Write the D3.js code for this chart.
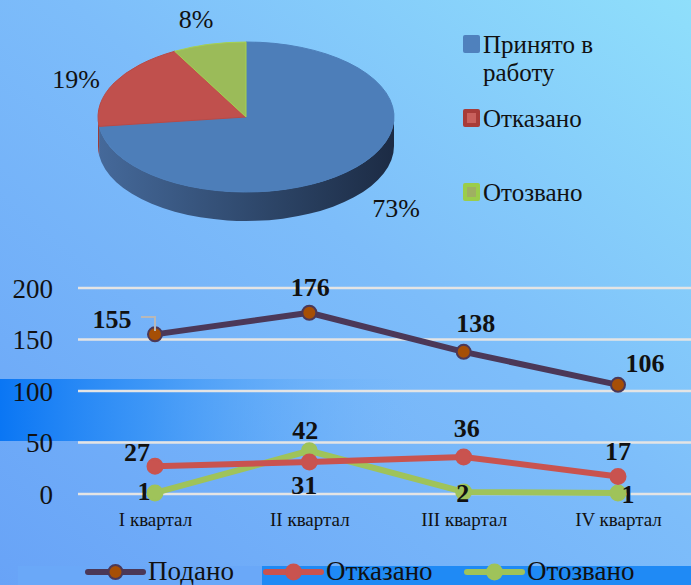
<!DOCTYPE html>
<html>
<head>
<meta charset="utf-8">
<script src="https://cdn.jsdelivr.net/npm/d3@7"></script>
<style>
  body { margin: 0; padding: 0; overflow: hidden; }
  svg { display: block; font-family: "Liberation Serif", "Times New Roman", serif; }
</style>
</head>
<body>
<div id="chart-area"></div>
<script>
// pie data
var pieLabels = ["Принято в работу", "Отказано", "Отозвано"];
var pieValues = [73, 19, 8];

// line data
var quarters = ["I квартал", "II квартал", "III квартал", "IV квартал"];
var seriesNames = ["Подано", "Отказано", "Отозвано"];
var podano = [155, 176, 138, 106];
var otkazano = [27, 31, 36, 17];
var otozvano = [1, 42, 2, 1];
var yTicks = [0, 50, 100, 150, 200];

var width = 691;
var height = 585;

var svg = d3.select("#chart-area")
    .append("svg")
        .attr("width", width)
        .attr("height", height);

var defs = svg.append("defs");

// background
var bg = defs.append("linearGradient").attr("id", "bg")
    .attr("x1", "0").attr("y1", "1").attr("x2", "1").attr("y2", "0");
bg.append("stop").attr("offset", "0").attr("stop-color", "#68a3f7");
bg.append("stop").attr("offset", "0.55").attr("stop-color", "#7dbdfa");
bg.append("stop").attr("offset", "1").attr("stop-color", "#8fdffb");
svg.append("rect").attr("width", width).attr("height", height).attr("fill", "url(#bg)");

var band = defs.append("linearGradient").attr("id", "band");
band.append("stop").attr("offset", "0").attr("stop-color", "#0a76f4").attr("stop-opacity", 1);
band.append("stop").attr("offset", "0.35").attr("stop-color", "#3090f6").attr("stop-opacity", 0.8);
band.append("stop").attr("offset", "1").attr("stop-color", "#70b8fa").attr("stop-opacity", 0);
svg.append("rect").attr("x", 0).attr("y", 379).attr("width", 420).attr("height", 62)
    .attr("fill", "url(#band)");

svg.append("rect").attr("x", 18).attr("y", 566).attr("width", 244).attr("height", 19)
    .attr("fill", "#6aa8f8");
svg.append("rect").attr("x", 262).attr("y", 566).attr("width", 429).attr("height", 19)
    .attr("fill", "#1f8af5");

// ---------- 3D pie ----------
var cx = 246, cy = 117, rx = 148, ry = 75, depth = 29;
var pieColors = ["#4d7eb9", "#c0504d", "#9bbb59"];
var pieStroke = ["#4d7eb9", "#b84a47", "#a6d14f"];

var pie = d3.pie().sort(null).value((d) => d);
var arcs = pie(pieValues);

function px(a) { return cx + rx * Math.sin(a); }
function py(a) { return cy - ry * Math.cos(a); }

var side = defs.append("linearGradient").attr("id", "side");
side.append("stop").attr("offset", "0").attr("stop-color", "#45699a");
side.append("stop").attr("offset", "0.6").attr("stop-color", "#2c4466");
side.append("stop").attr("offset", "1").attr("stop-color", "#1c2b44");

var sideFill = ["url(#side)", "#9a3c3a", "#7d9a45"];

// side walls (front half only: pi/2 .. 3pi/2)
arcs.forEach((d, i) => {
    var a1 = Math.max(d.startAngle, Math.PI / 2);
    var a2 = Math.min(d.endAngle, 3 * Math.PI / 2);
    if (a2 <= a1) return;
    var path = "M" + px(a1) + "," + py(a1) +
        "L" + px(a1) + "," + (py(a1) + depth) +
        "A" + rx + "," + ry + " 0 0 1 " + px(a2) + "," + (py(a2) + depth) +
        "L" + px(a2) + "," + py(a2) +
        "A" + rx + "," + ry + " 0 0 0 " + px(a1) + "," + py(a1) + "Z";
    svg.append("path").attr("d", path).attr("fill", sideFill[i]);
});

// top faces
arcs.forEach((d, i) => {
    var large = (d.endAngle - d.startAngle) > Math.PI ? 1 : 0;
    var path = "M" + cx + "," + cy +
        "L" + px(d.startAngle) + "," + py(d.startAngle) +
        "A" + rx + "," + ry + " 0 " + large + " 1 " + px(d.endAngle) + "," + py(d.endAngle) + "Z";
    svg.append("path").attr("d", path)
        .attr("fill", pieColors[i])
        .attr("stroke", pieStroke[i])
        .attr("stroke-width", 1);
});

// pie percent labels
var piePctPos = [[396, 217], [76, 88], [196, 28]];
pieValues.forEach((v, i) => {
    svg.append("text")
        .attr("x", piePctPos[i][0]).attr("y", piePctPos[i][1])
        .attr("text-anchor", "middle")
        .attr("font-size", "26px")
        .attr("fill", "#111")
        .text(v + "%");
});

// pie legend
var legRows = [[["Принято в", "работу"], 35], [["Отказано"], 109], [["Отозвано"], 183]];
var legSq = [["#4f81bd", "#4f81bd"], ["#a83c39", "#c9605c"], ["#9bcd4a", "#9fb062"]];
legRows.forEach((r, i) => {
    var y0 = r[1];
    svg.append("rect").attr("x", 463).attr("y", y0).attr("width", 17).attr("height", 18)
        .attr("rx", 2).attr("fill", legSq[i][0]);
    svg.append("rect").attr("x", 467).attr("y", y0 + 4).attr("width", 9).attr("height", 10)
        .attr("fill", legSq[i][1]);
    r[0].forEach((t, j) => {
        svg.append("text")
            .attr("x", 483).attr("y", y0 + 18 + j * 28)
            .attr("font-size", "25px")
            .attr("fill", "#111")
            .text(t);
    });
});

// ---------- line chart ----------
var x = d3.scalePoint().domain(quarters).range([155, 618]);
var y = d3.scaleLinear().domain([0, 200]).range([494, 288]);

var grid = svg.append("g");
yTicks.forEach((t) => {
    grid.append("line")
        .attr("x1", 78).attr("x2", 691)
        .attr("y1", y(t)).attr("y2", y(t))
        .attr("stroke", "#e4e4e4").attr("stroke-width", 2.5);
});

var leftAxis = d3.axisLeft(y).tickValues(yTicks).tickSize(0).tickPadding(0);
var ya = svg.append("g")
    .attr("transform", "translate(53, 0)")
    .call(leftAxis);
ya.select(".domain").remove();
ya.selectAll("text")
    .attr("font-size", "27px")
    .attr("font-family", "Liberation Serif, serif")
    .attr("fill", "#111")
    .attr("dy", "0.34em");

var bottomAxis = d3.axisBottom(x).tickSize(0).tickPadding(0);
var xa = svg.append("g")
    .attr("transform", "translate(0, 513)")
    .call(bottomAxis);
xa.select(".domain").remove();
xa.selectAll("text")
    .attr("font-size", "19px")
    .attr("font-family", "Liberation Serif, serif")
    .attr("fill", "#111")
    .attr("dy", "0.7em");

var series = [
    {name: seriesNames[0], values: podano, line: "#4b3858", fill: "#a64f06", stroke: "#4b3858", r: 7},
    {name: seriesNames[1], values: otkazano, line: "#c9534f", fill: "#c9534f", stroke: "#c9534f", r: 7.5},
    {name: seriesNames[2], values: otozvano, line: "#9fc35a", fill: "#9fc35a", stroke: "#9fc35a", r: 7.5}
];

var line = d3.line()
    .x((d, i) => x(quarters[i]))
    .y((d) => y(d));

// draw series in reverse so Подано is on top
series.slice().reverse().forEach((s) => {
    svg.append("path")
        .attr("d", line(s.values))
        .attr("fill", "none")
        .attr("stroke", s.line)
        .attr("stroke-width", 6)
        .attr("stroke-linejoin", "round");
});
series.slice().reverse().forEach((s) => {
    svg.selectAll(null)
        .data(s.values)
        .enter()
        .append("circle")
            .attr("cx", (d, i) => x(quarters[i]))
            .attr("cy", (d) => y(d))
            .attr("r", s.r)
            .attr("fill", s.fill)
            .attr("stroke", s.stroke)
            .attr("stroke-width", 2);
});

// leader line for first label
svg.append("polyline")
    .attr("points", "141,317 155,317 155,331")
    .attr("fill", "none")
    .attr("stroke", "#b8b8b8")
    .attr("stroke-width", 2);

// data labels: offsets from the point (dx, baseline dy)
var labelOffsets = [
    [[-43, -6], [1, -17], [12, -20], [27, -13]],
    [[-18, -5], [-5, 32], [3, -20], [0, -16]],
    [[-11, 7], [-4, -12], [-1, 10], [10, 10]]
];
series.forEach((s, si) => {
    svg.selectAll(null)
        .data(s.values)
        .enter()
        .append("text")
            .attr("x", (d, i) => x(quarters[i]) + labelOffsets[si][i][0])
            .attr("y", (d, i) => y(d) + labelOffsets[si][i][1])
            .attr("text-anchor", "middle")
            .attr("font-size", "26px")
            .attr("font-weight", "bold")
            .attr("fill", "#111")
            .text((d) => d);
});

// bottom legend
var legX = [88, 266, 467];
series.forEach((s, i) => {
    var g = svg.append("g").attr("transform", "translate(" + legX[i] + ", 572)");
    g.append("line").attr("x1", 0).attr("x2", 55).attr("y1", 0).attr("y2", 0)
        .attr("stroke", s.line).attr("stroke-width", 6).attr("stroke-linecap", "round");
    g.append("circle").attr("cx", 27.5).attr("cy", 0).attr("r", s.r)
        .attr("fill", s.fill).attr("stroke", s.stroke).attr("stroke-width", 2);
    g.append("text").attr("x", 60).attr("y", 8)
        .attr("font-size", "27px")
        .attr("fill", "#111")
        .text(s.name);
});
</script>
</body>
</html>
